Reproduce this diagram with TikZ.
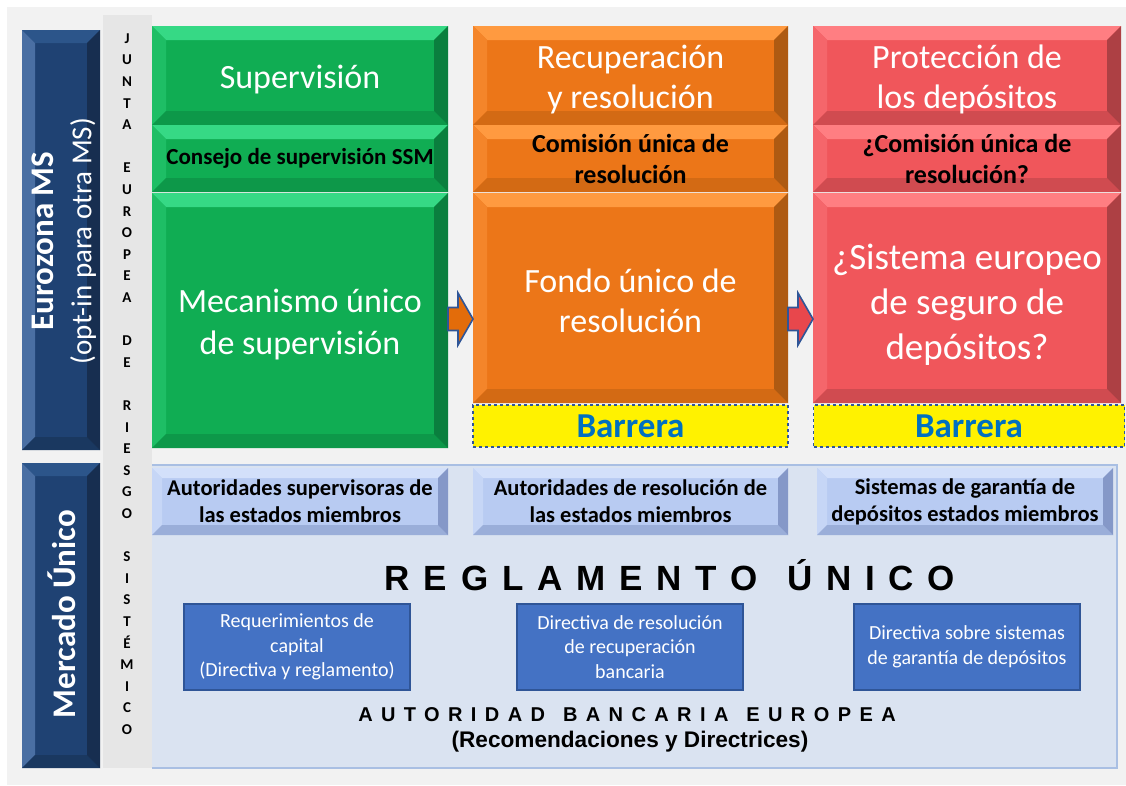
\documentclass[tikz,border=0pt]{standalone}
\usepackage{fontspec}
\setmainfont{Carlito}
\newfontfamily\arialfont{Liberation Sans}
\usetikzlibrary{calc}

\definecolor{bgGray}{HTML}{F2F2F2}
\definecolor{juntaGray}{HTML}{E6E6E6}
\definecolor{gFace}{HTML}{10AD53}
\definecolor{gTop}{HTML}{36D985}
\definecolor{gLeft}{HTML}{1EBE65}
\definecolor{gBot}{HTML}{0D9849}
\definecolor{gRight}{HTML}{0A7F3E}
\definecolor{oFace}{HTML}{EC7618}
\definecolor{oTop}{HTML}{FF9A40}
\definecolor{oLeft}{HTML}{F4852A}
\definecolor{oBot}{HTML}{D36A14}
\definecolor{oRight}{HTML}{AE5A12}
\definecolor{rFace}{HTML}{F0565B}
\definecolor{rTop}{HTML}{FF7E82}
\definecolor{rLeft}{HTML}{F5666B}
\definecolor{rBot}{HTML}{D04B50}
\definecolor{rRight}{HTML}{AD4044}
\definecolor{nFace}{HTML}{1F4273}
\definecolor{nTop}{HTML}{2C558A}
\definecolor{nLeft}{HTML}{4A6FA3}
\definecolor{nBot}{HTML}{1A3860}
\definecolor{nRight}{HTML}{172E50}
\definecolor{lFace}{HTML}{B8CBF2}
\definecolor{lTop}{HTML}{D3E0FA}
\definecolor{lLeft}{HTML}{C6D6F6}
\definecolor{lBot}{HTML}{9AAED9}
\definecolor{lRight}{HTML}{8598C8}
\definecolor{panelBlue}{HTML}{DAE3F1}
\definecolor{panelLine}{HTML}{A9BFE3}
\definecolor{dBlue}{HTML}{4472C4}
\definecolor{dBlueLine}{HTML}{2F5597}
\definecolor{barText}{HTML}{0070C0}
\definecolor{arrOrange}{HTML}{E36C0A}
\definecolor{arrRed}{HTML}{E8474C}

% bevelled box: name, x1, y1, x2, y2, inset, colour prefix, node options, text
\newcommand{\bevbox}[9]{%
  \fill[#7Face] (#2,#3) rectangle (#4,#5);
  \fill[#7Top] (#2,#3) -- (#4,#3) -- ({#4-#6},{#3+#6}) -- ({#2+#6},{#3+#6}) -- cycle;
  \fill[#7Left] (#2,#3) -- ({#2+#6},{#3+#6}) -- ({#2+#6},{#5-#6}) -- (#2,#5) -- cycle;
  \fill[#7Bot] (#2,#5) -- ({#2+#6},{#5-#6}) -- ({#4-#6},{#5-#6}) -- (#4,#5) -- cycle;
  \fill[#7Right] (#4,#3) -- (#4,#5) -- ({#4-#6},{#5-#6}) -- ({#4-#6},{#3+#6}) -- cycle;
  \node[boxnode, minimum width={(#4-#2)*1pt}, minimum height={(#5-#3)*1pt}, #8] (#1) at ({(#2+#4)/2},{(#3+#5)/2}) {#9};
}

\tikzset{
  boxnode/.style={inner sep=0pt, outer sep=0pt, align=center},
  bigtitle/.style={text=white, font=\fontsize{34}{40}\selectfont, yshift=-4pt},
  subtitle/.style={text=black, font=\bfseries\fontsize{26}{31}\selectfont},
  autbox/.style={text=black, font=\bfseries\fontsize{22.5}{27}\selectfont},
  barrera/.style={draw=dBlueLine, dashed, line width=1.2pt, fill=yellow, inner sep=0pt,
     text=barText, font=\bfseries\fontsize{35}{36}\selectfont},
  dirbox/.style={draw=dBlueLine, line width=1.1pt, fill=dBlue, text=white, inner sep=0pt,
     align=center, minimum width=226pt, minimum height=86pt, font=\fontsize{20}{24.5}\selectfont},
  blockarrow/.style={draw=dBlueLine, line width=1.6pt, line join=miter},
  sidelabel/.style={text=white, rotate=90, align=center, inner sep=0pt},
}

\begin{document}
\begin{tikzpicture}[x=1pt,y=-1pt]
\useasboundingbox (0,0) rectangle (1126,785);
\fill[white] (0,0) rectangle (1126,785);
\fill[bgGray] (7,7) rectangle (1126,785);

% JUNTA column
\fill[juntaGray] (103,15) rectangle (152,768);
\node[inner sep=0pt, align=center, font=\bfseries\fontsize{15}{21.6}\selectfont] (junta) at (127,384)
 {J\\U\\N\\T\\A\\~\\E\\U\\R\\O\\P\\E\\A\\~\\D\\E\\~\\R\\I\\E\\S\\G\\O\\~\\S\\I\\S\\T\\É\\M\\I\\C\\O};

% left navy labels
\bevbox{euro}{22}{30}{100}{450}{13}{n}{}{}
\node[sidelabel, font=\fontsize{29}{38}\selectfont] (eurotxt) at (64,241)
 {{\bfseries\fontsize{33}{38}\selectfont Eurozona MS}\\(opt-in para otra MS)};
\bevbox{merc}{22}{463}{100}{768}{13}{n}{}{}
\node[sidelabel, font=\bfseries\fontsize{33}{38}\selectfont] (merctxt) at (62,614) {Mercado Único};

% green column
\bevbox{sup}{152}{26}{448}{125}{14}{g}{bigtitle}{Supervisión}
\bevbox{cons}{152}{125}{448}{192}{14}{g}{text=black, font=\bfseries\fontsize{23}{27}\selectfont}{Consejo de supervisión SSM}
\bevbox{mec}{152}{193}{448}{448}{14}{g}{bigtitle, font=\fontsize{34}{42}\selectfont}{Mecanismo único\\de supervisión}

% orange column
\bevbox{rec}{473}{26}{788}{125}{14}{o}{bigtitle}{Recuperación\\y resolución}
\bevbox{com}{473}{125}{788}{192}{14}{o}{subtitle}{Comisión única de\\resolución}
\bevbox{fondo}{473}{193}{788}{403}{14}{o}{bigtitle, yshift=1pt}{Fondo único de\\resolución}
\node[barrera, minimum width=315pt, minimum height=42pt] (bar1) at (630.5,426) {Barrera};

% red column
\bevbox{prot}{813}{26}{1121}{125}{14}{r}{bigtitle}{Protección de\\los depósitos}
\bevbox{comq}{813}{125}{1121}{192}{14}{r}{subtitle}{¿Comisión única de\\resolución?}
\bevbox{sist}{813}{193}{1121}{403}{14}{r}{text=white, font=\fontsize{37}{45}\selectfont, yshift=-7pt}{¿Sistema europeo\\de seguro de\\depósitos?}
\node[barrera, minimum width=311pt, minimum height=42pt] (bar2) at (969,426) {Barrera};

% block arrows
\coordinate (arry) at (0,319);
\draw[blockarrow, fill=arrOrange] (mec.east |- arry) ++(0,-11.5) -- ++(10,0) -- ++(0,-14.5)
  -- (fondo.west |- arry) -- ++(-15,26) -- ++(0,-14.5) -- ++(-10,0) -- cycle;
\draw[blockarrow, fill=arrRed] (fondo.east |- arry) ++(0,-11.5) -- ++(10,0) -- ++(0,-14.5)
  -- (sist.west |- arry) -- ++(-15,26) -- ++(0,-14.5) -- ++(-10,0) -- cycle;

% bottom panel
\fill[panelBlue] (152,465) rectangle (1117,768);
\draw[panelLine, line width=1.5pt] (152,465) -- (1117,465) -- (1117,768) -- (152,768);

\bevbox{aut1}{152}{468}{448}{535}{10}{l}{autbox}{Autoridades supervisoras de\\las estados miembros}
\bevbox{aut2}{473}{468}{788}{535}{10}{l}{autbox}{Autoridades de resolución de\\las estados miembros}
\bevbox{aut3}{817}{468}{1113}{535}{10}{l}{autbox}{Sistemas de garantía de\\depósitos estados miembros}

\node[inner sep=0pt, font=\arialfont\bfseries\fontsize{35}{40}\selectfont\addfontfeature{LetterSpace=39.5}] (regla) at (670,575) {REGLAMENTO\hspace{6pt} ÚNICO};

\node[dirbox] (dir1) at (297,647) {Requerimientos de\\capital\\(Directiva y reglamento)};
\node[dirbox] (dir2) at (630,647) {Directiva de resolución\\de recuperación\\bancaria};
\node[dirbox] (dir3) at (967,647) {Directiva sobre sistemas\\de garantía de depósitos};

\node[inner sep=0pt, font=\arialfont\bfseries\fontsize{20}{24}\selectfont\addfontfeature{LetterSpace=42}] (eba) at (627,715) {AUTORIDAD\hspace{4pt} BANCARIA\hspace{4pt} EUROPEA};
\node[inner sep=0pt, font=\arialfont\bfseries\fontsize{22.6}{26}\selectfont] (rec2) at (630,742) {(Recomendaciones y Directrices)};
\end{tikzpicture}
\end{document}
